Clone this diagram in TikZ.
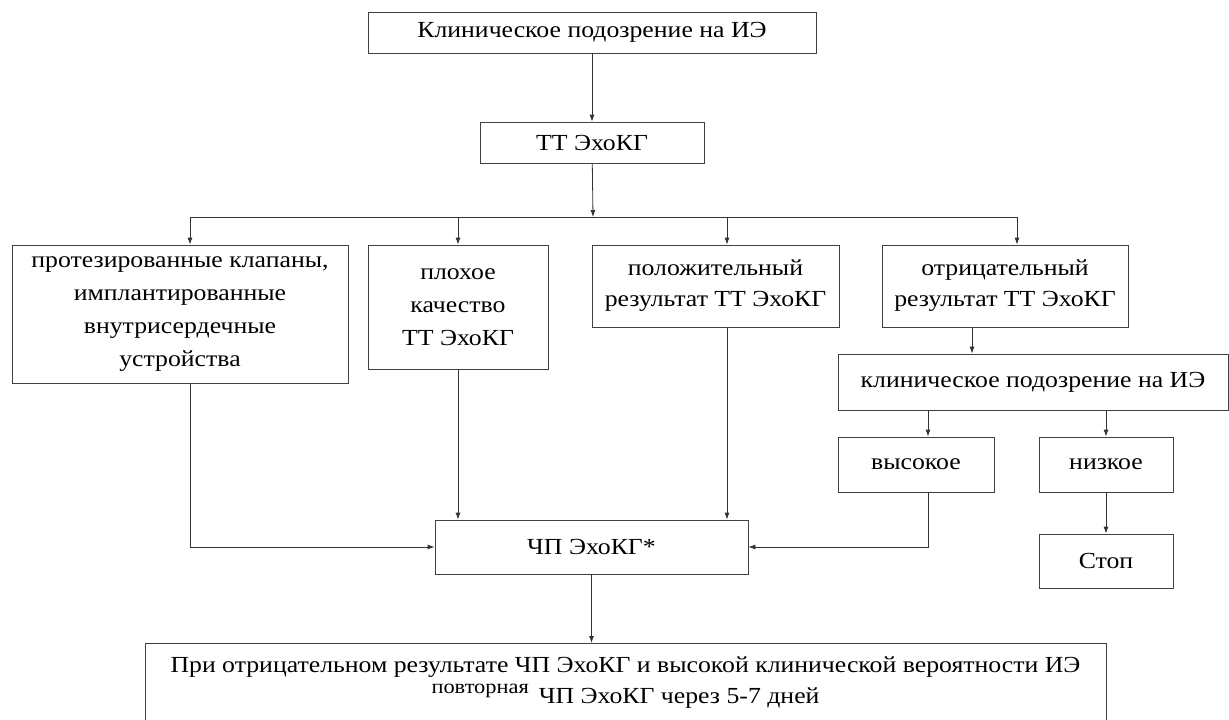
\documentclass[tikz,border=0pt]{standalone}
\usepackage{fontspec}
\setmainfont[FakeStretch=1.12]{Liberation Serif}
\usepackage{tikz}
\usetikzlibrary{arrows.meta}

\begin{document}
\begin{tikzpicture}[x=1pt, y=-1pt,
    box/.style={draw=black!75, line width=0.8pt, align=center, inner sep=0pt,
        font=\fontsize{23}{33}\selectfont},
    arr/.style={draw=black!80, line width=0.8pt, -{Latex[length=7pt,width=5pt]}}]
        \clip (0, 0) rectangle (1229, 720);
        \node (top) at (592, 32.5) [box, minimum width=448pt, minimum height=41pt] {Клиническое подозрение на ИЭ};
        \node (tt) at (592, 142.5) [box, minimum width=224pt, minimum height=41pt] {ТТ ЭхоКГ};
        \coordinate (split) at (593, 217);
        \node (prot) at (180, 314) [box, minimum width=336pt, minimum height=138pt] {протезированные клапаны,\\ имплантированные\\ внутрисердечные\\ устройства};
        \node (poor) at (458, 307) [box, minimum width=180pt, minimum height=124pt] {плохое\\ качество\\ ТТ ЭхоКГ};
        \node (pos) at (715.5, 286) [box, minimum width=247pt, minimum height=82pt, font=\fontsize{23}{31}\selectfont] {положительный\\ результат ТТ ЭхоКГ};
        \node (neg) at (1005, 286) [box, minimum width=246pt, minimum height=82pt, font=\fontsize{23}{31}\selectfont] {отрицательный\\ результат ТТ ЭхоКГ};
        \node (susp) at (1033, 382) [box, minimum width=390pt, minimum height=56pt] {клиническое подозрение на ИЭ};
        \node (high) at (916, 464.5) [box, minimum width=156pt, minimum height=55pt] {высокое};
        \node (low) at (1106, 464.5) [box, minimum width=134pt, minimum height=55pt] {низкое};
        \node (stop) at (1106, 561) [box, minimum width=134pt, minimum height=54pt] {Стоп};
        \node (tee) at (591.5, 547) [box, minimum width=313pt, minimum height=54pt] {ЧП ЭхоКГ*};
        \node (last) at (625.5, 643) [box, anchor=north, minimum width=961pt, minimum height=140pt,
            label={[anchor=north, yshift=-10pt, align=center, font=\fontsize{23}{31}\selectfont]north:{При отрицательном результате ЧП ЭхоКГ и высокой клинической вероятности ИЭ\\ \raisebox{10pt}{\fontsize{20}{20}\selectfont повторная}\hspace{10pt}ЧП ЭхоКГ через 5-7 дней}}] {};

        \draw [arr] (top) -- (tt);
        \draw [arr] (tt) -- (split);
        \draw [arr] (split) -| ([xshift=10pt]prot.north);
        \draw [arr] (split) -| (poor.north);
        \draw [arr] (split) -| ([xshift=11.5pt]pos.north);
        \draw [arr] (split) -| ([xshift=12pt]neg.north);
        \draw [arr] ([xshift=-33pt]neg.south) -- ([xshift=-33pt]neg.south |- susp.north);
        \draw [arr] ([xshift=12pt]high.north |- susp.south) -- ([xshift=12pt]high.north);
        \draw [arr] (low.north |- susp.south) -- (low.north);
        \draw [arr] (low) -- (stop);
        \draw [arr] ([xshift=10pt]prot.south) |- (tee.west);
        \draw [arr] (poor.south) -- (poor.south |- tee.north);
        \draw [arr] ([xshift=11.5pt]pos.south) -- ([xshift=11.5pt]pos.south |- tee.north);
        \draw [arr] ([xshift=12pt]high.south) |- (tee.east);
        \draw [arr] (tee.south) -- (tee.south |- last.north);
    \end{tikzpicture}
\end{document}
